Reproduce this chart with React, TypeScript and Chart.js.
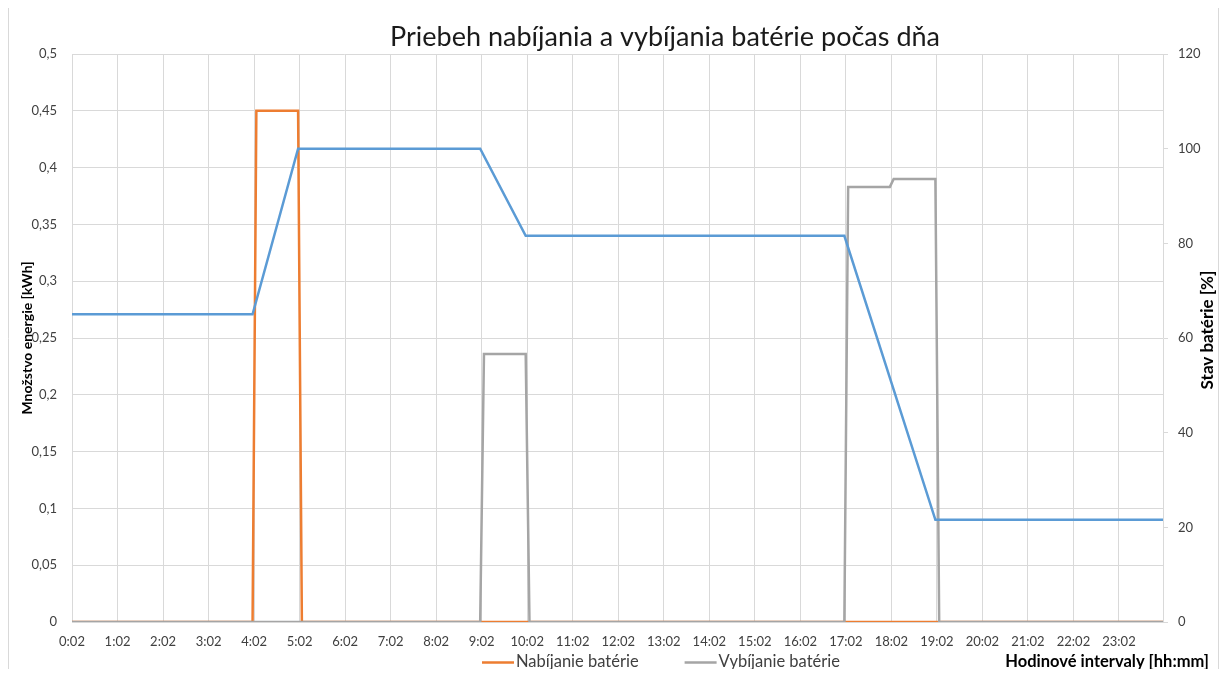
import React, { useEffect, useRef } from 'react';
import { Chart, registerables } from 'chart.js';

Chart.register(...registerables);

const chartTitle = 'Priebeh nabíjania a vybíjania batérie počas dňa';
const leftAxisTitle = 'Množstvo energie [kWh]';
const rightAxisTitle = 'Stav batérie [%]';
const xAxisTitle = 'Hodinové intervaly [hh:mm]';

// x axis: minutes of the day
const axisStartMinute = 2;
const axisEndMinute = 1440;
const hourLabels = [
  '0:02', '1:02', '2:02', '3:02', '4:02', '5:02', '6:02', '7:02', '8:02', '9:02', '10:02', '11:02',
  '12:02', '13:02', '14:02', '15:02', '16:02', '17:02', '18:02', '19:02', '20:02', '21:02', '22:02', '23:02',
];
const hourTickMinutes = [
  2, 62, 122, 182, 242, 302, 362, 422, 482, 542, 602, 662,
  722, 782, 842, 902, 962, 1022, 1082, 1142, 1202, 1262, 1322, 1382,
];

// Charging (kWh)
const chargeLabel = 'Nabíjanie batérie';
const chargeMinutes = [2, 240, 245, 300, 305, 1440];
const chargeKWh = [0, 0, 0.45, 0.45, 0, 0];

// Discharging (kWh)
const dischargeLabel = 'Vybíjanie batérie';
const dischargeMinutes = [2, 540, 545, 600, 605, 1020, 1025, 1080, 1085, 1140, 1145, 1440];
const dischargeKWh = [0, 0, 0.236, 0.236, 0, 0, 0.383, 0.383, 0.39, 0.39, 0, 0];

// Battery state (%)
const stateLabel = 'Stav batérie';
const stateMinutes = [2, 240, 300, 540, 600, 1020, 1140, 1440];
const statePercent = [65, 65, 100, 100, 81.6, 81.6, 21.6, 21.6];

const ORANGE = '#ED7D31';
const GREY = '#A5A5A5';
const BLUE = '#5B9BD5';
const GRID = '#D9D9D9';
const TICK = '#404040';
const FONT = 'Lato';

const toPoints = (xs: number[], ys: number[]) => xs.map((x, i) => ({ x, y: ys[i] }));

const decorPlugin = {
  id: 'decor',
  afterDraw(chart: any) {
    const { ctx, chartArea, width } = chart;
    ctx.save();
    // chart border (left and right)
    ctx.strokeStyle = GRID;
    ctx.lineWidth = 1;
    ctx.beginPath();
    ctx.moveTo(0.5, 0);
    ctx.lineTo(0.5, chart.height);
    ctx.moveTo(width - 1.5, 0);
    ctx.lineTo(width - 1.5, chart.height);
    ctx.stroke();

    // title
    ctx.fillStyle = '#1A1A1A';
    ctx.font = `400 27px ${FONT}`;
    ctx.textAlign = 'center';
    ctx.textBaseline = 'alphabetic';
    ctx.fillText(chartTitle, 657, 38);

    // y axis titles
    ctx.fillStyle = '#000000';
    ctx.textBaseline = 'middle';
    ctx.font = `700 14px ${FONT}`;
    ctx.save();
    ctx.translate(19, (chartArea.top + chartArea.bottom) / 2);
    ctx.rotate(-Math.PI / 2);
    ctx.fillText(leftAxisTitle, 0, 0);
    ctx.restore();
    ctx.font = `700 17px ${FONT}`;
    ctx.save();
    ctx.translate(1200, 322);
    ctx.rotate(-Math.PI / 2);
    ctx.fillText(rightAxisTitle, 0, 0);
    ctx.restore();

    // x axis title
    ctx.font = `700 16.5px ${FONT}`;
    ctx.textAlign = 'right';
    ctx.textBaseline = 'alphabetic';
    ctx.fillText(xAxisTitle, 1201, 659);

    // legend (only energy series, not battery state)
    const items = chart.data.datasets.filter((d: any) => d.showInLegend);
    items.sort((a: any, b: any) => a.legendIndex - b.legendIndex);
    ctx.font = `400 16.5px ${FONT}`;
    ctx.textAlign = 'left';
    let x = 474;
    const lineY = 654.5;
    for (const d of items) {
      ctx.strokeStyle = d.borderColor;
      ctx.lineWidth = 2.5;
      ctx.beginPath();
      ctx.moveTo(x, lineY);
      ctx.lineTo(x + 32, lineY);
      ctx.stroke();
      x += 34;
      ctx.fillStyle = TICK;
      ctx.fillText(d.label, x, 659);
      x += ctx.measureText(d.label).width + 46;
    }
    ctx.restore();
  },
};

export default function App() {
  const canvasRef = useRef<HTMLCanvasElement | null>(null);

  useEffect(() => {
    if (!canvasRef.current) return;
    const tickFont = { family: FONT, size: 13 };
    const chart = new Chart(canvasRef.current, {
      type: 'line',
      data: {
        datasets: [
          {
            label: stateLabel,
            data: toPoints(stateMinutes, statePercent),
            borderColor: BLUE,
            backgroundColor: BLUE,
            borderWidth: 2.5,
            pointRadius: 0,
            tension: 0,
            yAxisID: 'y1',
            order: 0,
            showInLegend: false,
          } as any,
          {
            label: dischargeLabel,
            data: toPoints(dischargeMinutes, dischargeKWh),
            borderColor: GREY,
            backgroundColor: GREY,
            borderWidth: 2.5,
            pointRadius: 0,
            tension: 0,
            yAxisID: 'y',
            order: 1,
            showInLegend: true,
            legendIndex: 1,
          } as any,
          {
            label: chargeLabel,
            data: toPoints(chargeMinutes, chargeKWh),
            borderColor: ORANGE,
            backgroundColor: ORANGE,
            borderWidth: 2.5,
            pointRadius: 0,
            tension: 0,
            yAxisID: 'y',
            order: 2,
            showInLegend: true,
            legendIndex: 0,
          } as any,
        ],
      },
      options: {
        responsive: false,
        animation: false,
        layout: { padding: { top: 46, left: 0, right: 0, bottom: 0 } },
        plugins: {
          legend: { display: false },
          title: { display: false },
          tooltip: { enabled: false },
        },
        scales: {
          x: {
            type: 'linear',
            min: axisStartMinute,
            max: axisEndMinute,
            afterBuildTicks: (s: any) => {
              s.ticks = hourTickMinutes.map((v) => ({ value: v }));
            },
            afterFit: (s: any) => {
              s.height = 47;
            },
            grid: { color: GRID, lineWidth: 1, drawTicks: false },
            border: { display: true, color: GRID },
            ticks: {
              autoSkip: false,
              maxRotation: 0,
              padding: 12,
              font: tickFont,
              color: TICK,
              callback: (_v: any, i: number) => hourLabels[i] ?? '',
            },
          },
          y: {
            type: 'linear',
            position: 'left',
            min: 0,
            max: 0.5,
            afterFit: (s: any) => {
              s.width = 64;
            },
            grid: { color: GRID, lineWidth: 1, drawTicks: false },
            border: { display: false },
            ticks: {
              stepSize: 0.05,
              padding: 15,
              font: tickFont,
              color: TICK,
              callback: (v: any) => String(Math.round(Number(v) * 100) / 100).replace('.', ','),
            },
          },
          y1: {
            type: 'linear',
            position: 'right',
            min: 0,
            max: 120,
            afterFit: (s: any) => {
              s.width = 57;
            },
            grid: { drawOnChartArea: false, color: GRID, lineWidth: 1, tickLength: 5 },
            border: { display: true, color: GRID },
            ticks: {
              stepSize: 20,
              padding: 10,
              font: tickFont,
              color: TICK,
            },
          },
        },
      } as any,
      plugins: [decorPlugin],
    });
    return () => chart.destroy();
  }, []);

  return (
    <div style={{ width: 1212, height: 661 }}>
      <canvas ref={canvasRef} width={1212} height={661} style={{ display: 'block' }} />
    </div>
  );
}
